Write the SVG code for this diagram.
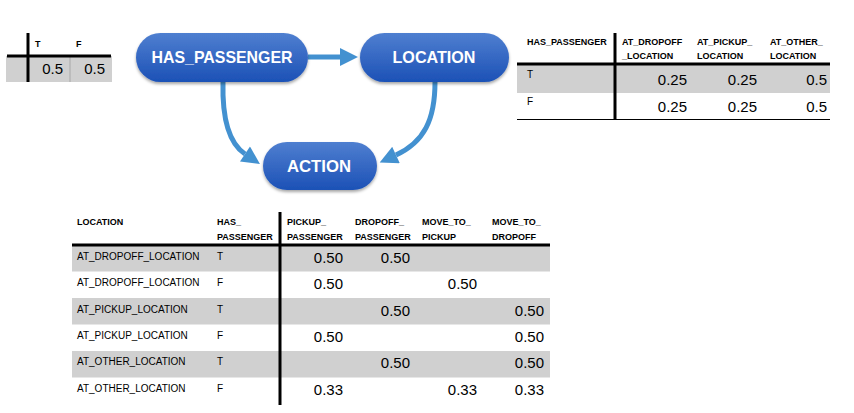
<svg xmlns="http://www.w3.org/2000/svg" width="854" height="413" viewBox="0 0 854 413">
<defs>
<linearGradient id="nodeGrad" x1="0" y1="0" x2="0" y2="1">
<stop offset="0" stop-color="#4f7fd0"/>
<stop offset="1" stop-color="#1c51b6"/>
</linearGradient>
<filter id="shadow" x="-10%" y="-20%" width="120%" height="150%">
<feDropShadow dx="0" dy="2" stdDeviation="1.6" flood-color="#000" flood-opacity="0.35"/>
</filter>
<marker id="arrow" viewBox="0 0 10 10" refX="0" refY="5" markerWidth="4" markerHeight="3.6" orient="auto" markerUnits="strokeWidth">
<path d="M0,0 L10,5 L0,10 Z" fill="#4391d0"/>
</marker>
</defs>
<style>
.node rect{fill:url(#nodeGrad);filter:url(#shadow)}
.node text{font-family:"Liberation Sans",Arial,sans-serif;font-size:17px;font-weight:bold;fill:#fff;text-anchor:middle}
.edge{fill:none;stroke:#4391d0;stroke-width:5;marker-end:url(#arrow)}
.hdr{font-family:"Liberation Sans",Arial,sans-serif;font-size:9px;font-weight:bold;fill:#000}
.lbl{font-family:"Liberation Sans",Arial,sans-serif;font-size:10px;fill:#000}
.val{font-family:"Liberation Sans",Arial,sans-serif;font-size:15px;fill:#000;text-anchor:end}
.gray{fill:#d0d0d0}
.thick{stroke:#000;stroke-width:3}
.thin{stroke:#000;stroke-width:1}
</style>
<rect width="854" height="413" fill="#fff"/>

<!-- Prior table for HAS_PASSENGER -->
<g id="table_has_passenger">
<rect class="gray" x="6" y="56" width="106" height="26"/>
<line x1="70" y1="56" x2="70" y2="82" stroke="#a8a8a8" stroke-width="1"/>
<line class="thick" x1="7" y1="56" x2="111" y2="56"/>
<line class="thick" x1="28" y1="33" x2="28" y2="82"/>
<text class="hdr" x="35" y="47" font-size="8">T</text>
<text class="hdr" x="76" y="47" font-size="8">F</text>
<text class="val" x="63" y="74">0.5</text>
<text class="val" x="105" y="74">0.5</text>
</g>

<!-- Connectors -->
<g id="connectors">
<line class="edge" x1="308" y1="57" x2="340" y2="57"/>
<path class="edge" d="M223,82 C222,122 230,144 245,154"/>
<path class="edge" d="M435,82 C435,120 424,142 396,155"/>
</g>

<!-- Nodes -->
<g id="node_has_passenger" class="node">
<rect x="136" y="33" width="172" height="49" rx="24.5"/>
<text x="222" y="63" textLength="141" lengthAdjust="spacingAndGlyphs">HAS_PASSENGER</text>
</g>
<g id="node_location" class="node">
<rect x="360" y="33" width="149" height="49" rx="24.5"/>
<text x="434" y="63" textLength="83" lengthAdjust="spacingAndGlyphs">LOCATION</text>
</g>
<g id="node_action" class="node">
<rect x="263" y="142" width="114" height="48" rx="24"/>
<text x="319" y="172" textLength="64" lengthAdjust="spacingAndGlyphs">ACTION</text>
</g>

<!-- CPT for LOCATION -->
<g id="table_location">
<rect class="gray" x="517" y="65" width="313" height="28"/>
<line class="thick" x1="517" y1="64" x2="830" y2="64"/>
<line class="thick" x1="615" y1="33" x2="615" y2="120"/>
<line class="thin" x1="517" y1="119.5" x2="830" y2="119.5"/>
<text class="hdr" x="527" y="45">HAS_PASSENGER</text>
<text class="hdr" x="622" y="45">AT_DROPOFF</text>
<text class="hdr" x="622" y="59">_LOCATION</text>
<text class="hdr" x="697" y="45">AT_PICKUP_</text>
<text class="hdr" x="697" y="59">LOCATION</text>
<text class="hdr" x="770" y="45">AT_OTHER_</text>
<text class="hdr" x="770" y="59">LOCATION</text>
<text class="lbl" x="527" y="78">T</text>
<text class="val" x="687" y="85">0.25</text>
<text class="val" x="757" y="85">0.25</text>
<text class="val" x="827" y="85">0.5</text>
<text class="lbl" x="527" y="105">F</text>
<text class="val" x="687" y="112">0.25</text>
<text class="val" x="757" y="112">0.25</text>
<text class="val" x="827" y="112">0.5</text>
</g>

<!-- CPT for ACTION -->
<g id="table_action">
<rect class="gray" x="72" y="246" width="478" height="25.5"/>
<rect class="gray" x="72" y="298" width="478" height="26.5"/>
<rect class="gray" x="72" y="351" width="478" height="26.5"/>
<line class="thick" x1="72" y1="245" x2="550" y2="245"/>
<line class="thick" x1="280" y1="212" x2="280" y2="405"/>
<text class="hdr" x="77" y="225">LOCATION</text>
<text class="hdr" x="217" y="225">HAS_</text>
<text class="hdr" x="217" y="240">PASSENGER</text>
<text class="hdr" x="287" y="225">PICKUP_</text>
<text class="hdr" x="287" y="240">PASSENGER</text>
<text class="hdr" x="355" y="225">DROPOFF_</text>
<text class="hdr" x="355" y="240">PASSENGER</text>
<text class="hdr" x="422" y="225">MOVE_TO_</text>
<text class="hdr" x="422" y="240">PICKUP</text>
<text class="hdr" x="492" y="225">MOVE_TO_</text>
<text class="hdr" x="492" y="240">DROPOFF</text>

<text class="lbl" x="77" y="260">AT_DROPOFF_LOCATION</text>
<text class="lbl" x="217" y="260">T</text>
<text class="val" x="343" y="263">0.50</text>
<text class="val" x="410" y="263">0.50</text>

<text class="lbl" x="77" y="286">AT_DROPOFF_LOCATION</text>
<text class="lbl" x="217" y="286">F</text>
<text class="val" x="343" y="289">0.50</text>
<text class="val" x="477" y="289">0.50</text>

<text class="lbl" x="77" y="313">AT_PICKUP_LOCATION</text>
<text class="lbl" x="217" y="313">T</text>
<text class="val" x="410" y="316">0.50</text>
<text class="val" x="544" y="316">0.50</text>

<text class="lbl" x="77" y="339">AT_PICKUP_LOCATION</text>
<text class="lbl" x="217" y="339">F</text>
<text class="val" x="343" y="342">0.50</text>
<text class="val" x="544" y="342">0.50</text>

<text class="lbl" x="77" y="365">AT_OTHER_LOCATION</text>
<text class="lbl" x="217" y="365">T</text>
<text class="val" x="410" y="368">0.50</text>
<text class="val" x="544" y="368">0.50</text>

<text class="lbl" x="77" y="392">AT_OTHER_LOCATION</text>
<text class="lbl" x="217" y="392">F</text>
<text class="val" x="343" y="395">0.33</text>
<text class="val" x="477" y="395">0.33</text>
<text class="val" x="544" y="395">0.33</text>
</g>
</svg>
